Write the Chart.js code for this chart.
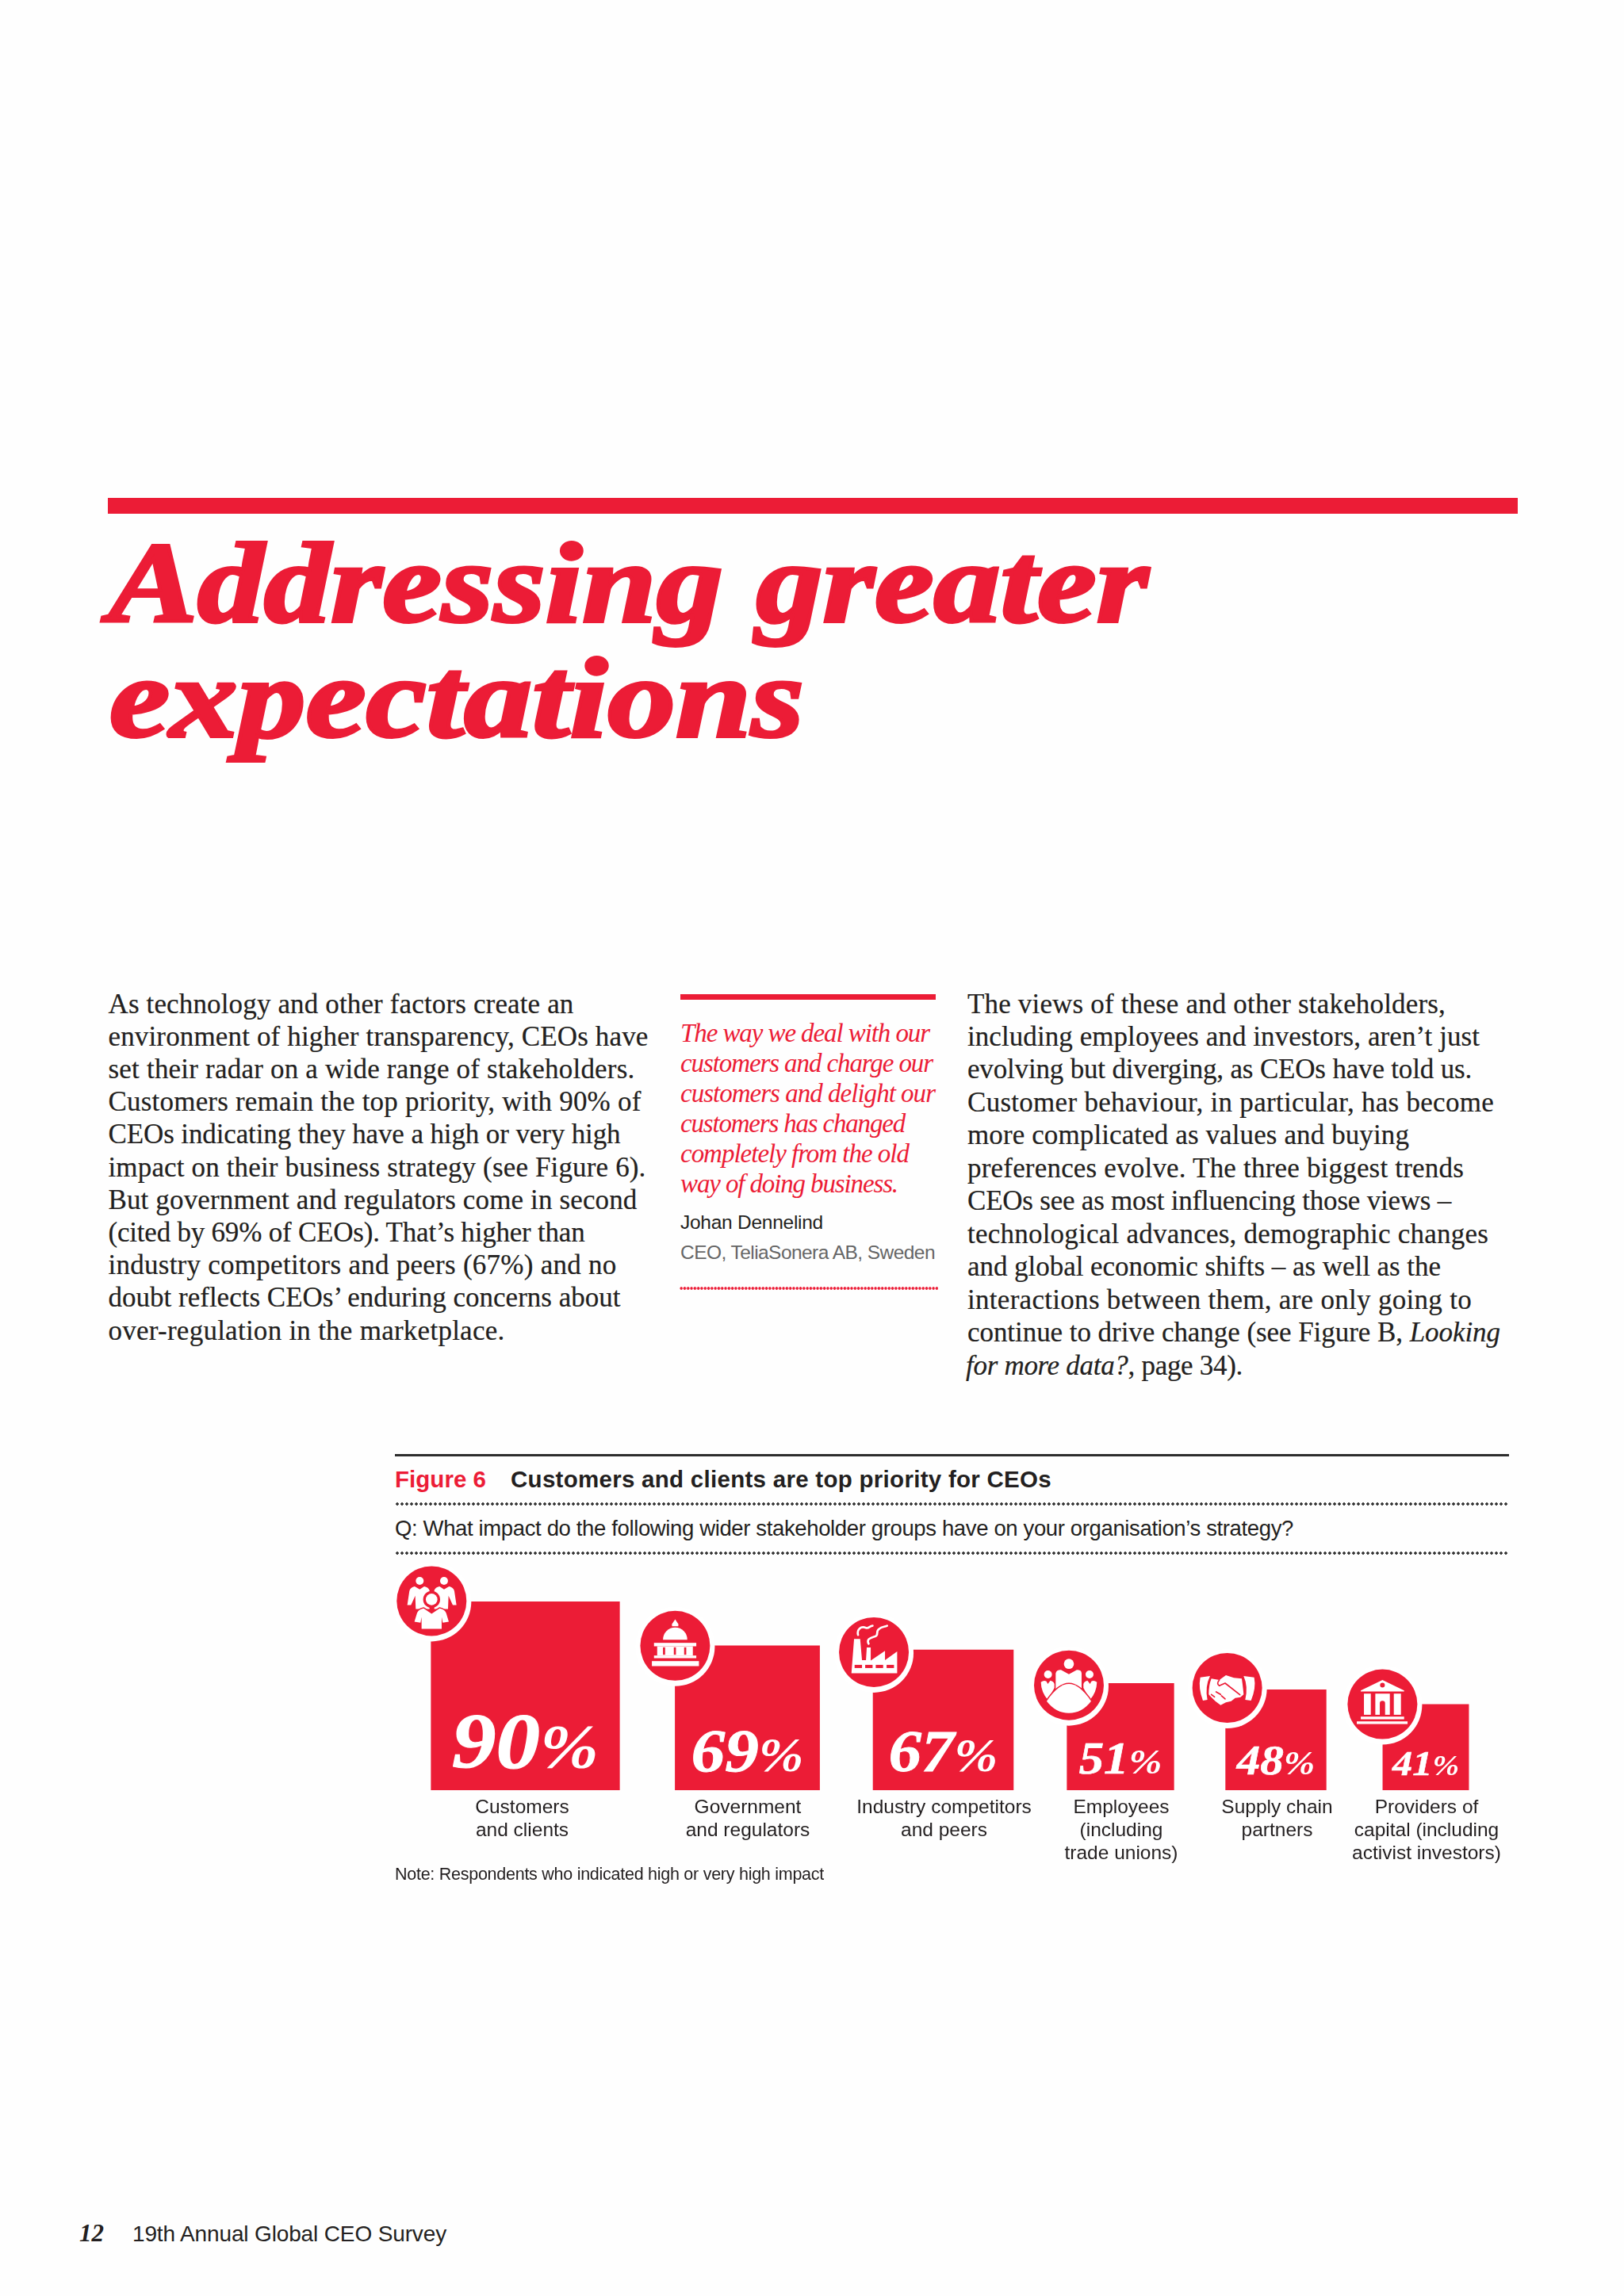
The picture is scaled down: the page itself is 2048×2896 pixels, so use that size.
<!DOCTYPE html>
<html><head><meta charset="utf-8">
<script src="https://cdn.jsdelivr.net/npm/chart.js@4"></script>
<style>
html,body{margin:0;padding:0;background:#fefefe}
#page{position:relative;width:2048px;height:2896px;overflow:hidden;background:#fefefe}
.t{position:absolute;white-space:nowrap;left:0;top:0}
.r{position:absolute}
.body{font:35px "Liberation Serif",serif;color:#231f20;-webkit-text-stroke:0.2px #231f20}
.quote{font:italic 33px "Liberation Serif",serif;color:#ec1c36}
.title{font:italic bold 143px "Liberation Serif",serif;color:#ec1c36;-webkit-text-stroke:4px #ec1c36;transform-origin:0 50%}
.sans{font-family:"Liberation Sans",sans-serif;color:#231f20}
canvas{position:absolute;left:0;top:1965px}
</style></head><body><div id="page"><canvas id="c" width="2048" height="400"></canvas></div>
<script>
// ---- chart data ----
const categories = [["Customers","and clients"],["Government","and regulators"],["Industry competitors","and peers"],["Employees","(including","trade unions)"],["Supply chain","partners"],["Providers of","capital (including","activist investors)"]];
const values = [90,69,67,51,48,41];
// ---- layout (x axis units are page pixels) ----
const barCenters = [662.5,942.5,1189.5,1413,1609,1798];
const labelCenters = [658.5,943,1190.5,1414,1610.5,1799];
const badgeNudge = [[0.6,0],[0,1],[1,3.8],[2.3,3.3],[2,-1.3],[-0.5,0.8]];
const RED = "#ec1c36";
const CH = 400, BASE = 293, PX = 2.64;

// ---- page text ----
const page = document.getElementById('page');
function line(x, base, html, cls, w, style, stretch){
  const d = document.createElement('div'); d.className = 't ' + cls;
  if(style) d.style.cssText = style;
  d.innerHTML = html;
  const p = document.createElement('span'); p.style.cssText='display:inline-block;width:0;height:0';
  d.appendChild(p); page.appendChild(d);
  if(w){ const n = d.textContent.length; const cur = d.getBoundingClientRect().width;
    if(stretch) d.style.transform='scaleX('+(w/cur)+')';
    else d.style.letterSpacing = ((w-cur)/n) + 'px'; }
  const off = p.getBoundingClientRect().bottom - d.getBoundingClientRect().top;
  d.style.left = x+'px'; d.style.top = (base-off)+'px';
}
function rect(x,y,w,h,c){const d=document.createElement('div');d.className='r';d.style.cssText=`left:${x}px;top:${y}px;width:${w}px;height:${h}px;background:${c}`;page.appendChild(d);}
function dots(x,y,w,c,step){const d=document.createElement('div');d.className='r';d.style.cssText=`left:${x}px;top:${y-2}px;width:${w}px;height:4px;background-image:radial-gradient(circle,${c} 1.5px,transparent 2px);background-size:${step}px 4px`;page.appendChild(d);}

rect(136,628,1778,20,RED);
line(137,784,'Addressing greater','title',1311,null,true);
line(138,929,'expectations','title',876,null,true);

const left = [["As technology and other factors create an",587],["environment of higher transparency, CEOs have",681],["set their radar on a wide range of stakeholders.",664],["Customers remain the top priority, with 90% of",672],["CEOs indicating they have a high or very high",646],["impact on their business strategy (see Figure 6).",678],["But government and regulators come in second",667],["(cited by 69% of CEOs). That’s higher than",601],["industry competitors and peers (67%) and no",641],["doubt reflects CEOs’ enduring concerns about",646],["over-regulation in the marketplace.",500]];
left.forEach((l,i)=>line(136.5,1277.5+i*41.2,l[0],'body',l[1]));
const right = [["The views of these and other stakeholders,",603],["including employees and investors, aren’t just",646],["evolving but diverging, as CEOs have told us.",636],["Customer behaviour, in particular, has become",664],["more complicated as values and buying",557],["preferences evolve. The three biggest trends",626],["CEOs see as most influencing those views –",610],["technological advances, demographic changes",657],["and global economic shifts – as well as the",597],["interactions between them, are only going to",636],["continue to drive change (see Figure B, <i>Looking</i>",672],["<i>for more data?</i>, page 34).",349]];
right.forEach((l,i)=>line(i==11?1218:1220,1277.5+i*41.47,l[0],'body',l[1]));
rect(858,1254,322,7,RED);
const quote = [["The way we deal with our",314],["customers and charge our",318],["customers and delight our",321],["customers has changed",283],["completely from the old",288],["way of doing business.",274]];
quote.forEach((l,i)=>line(858,1314+i*38,l[0],'quote',l[1]));
line(858,1550,'Johan Dennelind','sans',180,'font-size:24.5px');
line(858,1587.7,'CEO, TeliaSonera AB, Sweden','sans',321,'font-size:24.5px;color:#666');
dots(857,1625,326,RED,4.3);

rect(498,1834,1405,3,'#2d2d2d');
line(498,1875.5,'Figure 6','sans',115,'font-size:29.5px;font-weight:bold;color:'+RED);
line(644,1875.5,'Customers and clients are top priority for CEOs','sans',682,'font-size:29.5px;font-weight:bold');
dots(498,1897,1405,'#333',6);
line(498,1937,'Q: What impact do the following wider stakeholder groups have on your organisation’s strategy?','sans',1133,'font-size:27.5px');
dots(498,1959,1405,'#333',6);
line(498,2371,'Note: Respondents who indicated high or very high impact','sans',541,'font-size:21.5px');
line(100,2827,'12','t',31,'font:italic bold 31px "Liberation Serif",serif;color:#231f20');
line(167,2827,'19th Annual Global CEO Survey','sans',396,'font-size:28px');

// ---- icons (unit: 1/3 px, origin at circle centre) ----
const W='#fff';
function fill(c,p,col){c.fillStyle=col||W;c.fill(new Path2D(p));}
function disc(c,x,y,r,col){c.fillStyle=col||W;c.beginPath();c.arc(x,y,r,0,7);c.fill();}
function box(c,x0,y0,x1,y1,col){c.fillStyle=col||W;c.fillRect(x0,y0,x1-x0,y1-y0);}
function stroke(c,p,w,col){c.strokeStyle=col||W;c.lineWidth=w;c.lineCap='round';c.lineJoin='round';c.stroke(new Path2D(p));}
const icons=[
 c=>{ // people
  disc(c,-45,-76,15);disc(c,47,-76,15);
  fill(c,'M-92,15 L-84,-38 Q-80,-52 -64,-55 L-45,-44 L-28,-55 Q-12,-52 -8,-40 L-8,30 L-60,30 L-62,-20 L-78,15 Z');
  fill(c,'M94,15 L86,-38 Q82,-52 66,-55 L47,-44 L30,-55 Q14,-52 10,-40 L10,30 L62,30 L64,-20 L80,15 Z');
  disc(c,0,-6,32,RED);disc(c,0,-6,22);
  const b='M-65,78 L-55,45 Q-50,32 -30,28 L0,48 L30,28 Q50,32 55,45 L65,78 L42,82 L38,60 L38,105 L-38,105 L-38,60 L-42,82 Z';
  stroke(c,b,9,RED);fill(c,b);
 },
 c=>{ // capitol
  fill(c,'M0,-100 L12,-82 L12,-74 L-12,-74 L-12,-82 Z');
  fill(c,'M-46,-23 A46,46 0 0 1 46,-23 Z');
  box(c,-80,-11,80,2);box(c,-68,2,67,37);
  box(c,-46,6,-38,34,RED);box(c,-5,6,3,34,RED);box(c,34,6,42,34,RED);
  box(c,-80,37,80,47);box(c,-88,58,90,77);
 },
 c=>{ // factory
  fill(c,'M-12,32 L42,-5 L42,30 L88,-3 L88,80 L-85,80 L-75,-50 L-52,-50 L-45,30 L-30,30 L-27,-18 L-12,-18 Z');
  [[-73,-45],[-33,-5],[7,35],[48,76]].forEach(a=>box(c,a[0],48,a[1],60,RED));
  stroke(c,'M-60,-65 C-65,-85 -50,-100 -30,-92 C-20,-88 -15,-100 -5,-100',8);
  stroke(c,'M-20,-32 C-30,-50 -10,-55 5,-60 C20,-65 5,-80 20,-88 C30,-98 40,-95 50,-100',8);
 },
 c=>{ // meeting
  disc(c,0,-81,19);disc(c,-79,-41,15);disc(c,78,-41,15);
  fill(c,'M-50,35 L-50,-45 Q-48,-58 -30,-58 L0,-42 L30,-58 Q48,-58 48,-45 L48,20 L-30,20 L-30,35 Z');
  fill(c,'M-106,-12 Q-95,-20 -85,-15 L-80,-5 L-70,-18 Q-58,-15 -55,-5 L-55,10 L-80,55 Q-105,25 -106,-12 Z');
  fill(c,'M106,-12 Q95,-20 85,-15 L80,-5 L70,-18 Q58,-15 55,-5 L55,10 L80,55 Q105,25 106,-12 Z');
  const d='M-84,60 Q-40,-5 0,-5 Q40,-5 84,60 Q50,105 0,105 Q-50,105 -84,60 Z';
  stroke(c,d,9,RED);fill(c,d);
 },
 c=>{ // handshake
  fill(c,'M-102,-40 L-65,-45 Q-85,-5 -75,45 L-92,48 Q-110,0 -102,-40 Z');
  fill(c,'M102,-40 L62,-45 Q80,-5 68,45 L90,48 Q110,0 102,-40 Z');
  fill(c,'M-60,-35 L-30,-30 L-5,-48 L25,-38 L55,-35 Q60,0 62,25 L50,35 L30,38 L15,50 L-5,55 L-25,65 L-45,50 L-60,35 L-70,25 Q-70,-10 -60,-35 Z');
  stroke(c,'M-30,-30 Q-42,-15 -30,-8 L-8,-18 L48,26',5,RED);
  stroke(c,'M-60,25 L-48,34 M-42,15 L-25,25 M-22,30 L-8,42',5,RED);
 },
 c=>{ // bank
  fill(c,'M0,-92 L82,-52 L82,-48 L-82,-48 L-82,-52 Z');disc(c,0,-72,9,RED);
  box(c,-70,-40,-44,40);box(c,43,-40,70,40);box(c,-27,-40,28,40);
  fill(c,'M-10,40 L-10,-3 A10,10 0 0 1 10,-3 L10,40 Z',RED);
  box(c,-82,47,82,57);box(c,-97,65,95,75);
 }];

// ---- plugin: value labels and round badges at each bar's corner ----
const decorate={id:'decorate',afterDatasetsDraw(ch){
  const c=ch.ctx;
  ch.data.datasets.forEach((ds,i)=>{
    const b=ch.getDatasetMeta(i).data[0], v=values[i];
    const side=b.width, lx=b.x-side/2, top=b.y, bot=b.base;
    // value label: digits and a smaller percent sign, stretched wider like the reference face
    const fs=v*1.1, ps=fs*0.8, by=bot-(10+0.19*fs), sw=1.12;
    c.save();c.fillStyle='#fff';c.strokeStyle='#fff';c.lineWidth=fs*0.012;c.textBaseline='alphabetic';c.textAlign='left';
    const f1=`italic bold ${fs}px "Liberation Serif",serif`, f2=`italic bold ${ps}px "Liberation Serif",serif`;
    c.font=f1;const w1=c.measureText(String(v)).width;
    c.font=f2;const w2=c.measureText('%').width;
    c.save();c.translate(b.x,by);c.scale(sw,1);
    const sx=-(w1+w2)/2;
    c.font=f1;c.fillText(String(v),sx,0);c.strokeText(String(v),sx,0);
    c.font=f2;c.fillText('%',sx+w1,0);
    c.restore();
    // badge
    const n=badgeNudge[i];
    disc(c,lx+n[0],top+n[1],50,'#fff');disc(c,lx+n[0],top+n[1]-1,44,RED);
    c.translate(lx+n[0],top+n[1]-1);c.scale(1/3,1/3);icons[i](c);
    c.restore();
  });
}};

new Chart(document.getElementById('c'),{
  type:'bar',
  data:{datasets:values.map((v,i)=>({
    label:categories[i].join(' '),
    data:[{x:barCenters[i],y:v}],
    stack:'a',
    barThickness:v*PX,
    backgroundColor:RED,borderWidth:0
  }))},
  options:{
    responsive:false,animation:false,devicePixelRatio:1,
    layout:{padding:0},
    plugins:{legend:{display:false},tooltip:{enabled:false},title:{display:false}},
    scales:{
      y:{display:false,min:0,max:BASE/PX,grid:{display:false}},
      x:{type:'linear',min:0,max:2048,offset:false,
        grid:{display:false,drawTicks:false},border:{display:false},
        afterBuildTicks:s=>{s.ticks=labelCenters.map(v=>({value:v}));},
        afterFit:s=>{s.height=CH-BASE;},
        ticks:{autoSkip:false,maxRotation:0,minRotation:0,padding:8,color:'#231f20',
          font:{family:'"Liberation Sans",sans-serif',size:24.5,lineHeight:1.185},
          callback:(v,i)=>categories[i]}
      }
    }
  },
  plugins:[decorate]
});
</script></body></html>
